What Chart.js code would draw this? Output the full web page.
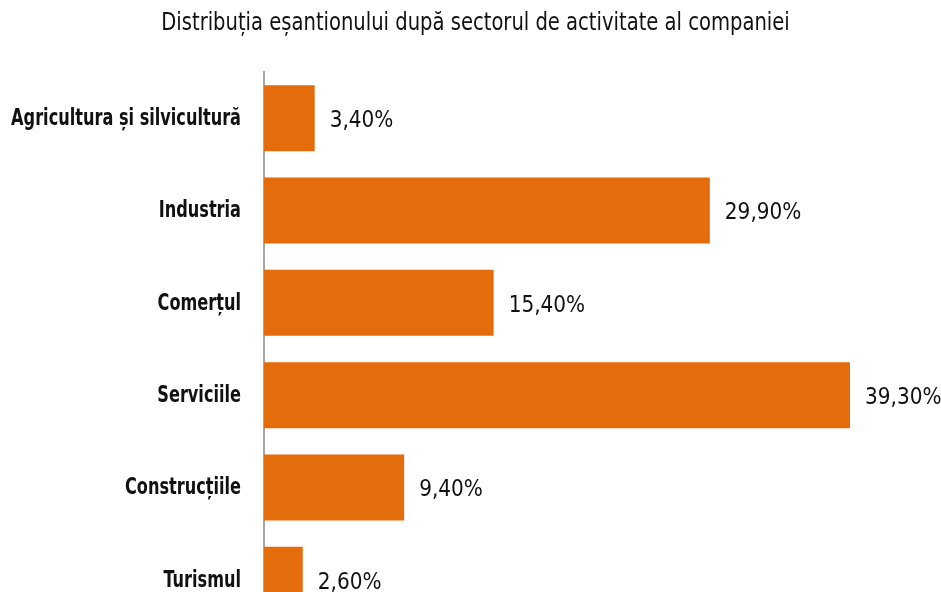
<!DOCTYPE html>
<html>
<head>
<meta charset="utf-8">
<script src="https://cdn.jsdelivr.net/npm/chart.js@4.4.1/dist/chart.umd.min.js"></script>
<style>
  html, body { margin: 0; padding: 0; background: #fff; overflow: hidden; }
  canvas { display: block; }
</style>
</head>
<body>
<canvas id="bars" width="941" height="626"></canvas>
<script>
// --- data ---
const chartTitle = "Distribuția eșantionului după sectorul de activitate al companiei";
const sectors = ["Agricultura și silvicultură", "Industria", "Comerțul", "Serviciile", "Construcțiile", "Turismul"];
const shares = [3.4, 29.9, 15.4, 39.3, 9.4, 2.6];

const FONT = "'DejaVu Sans Condensed', 'Liberation Sans Narrow', sans-serif";
const BAR_COLOR = "#E46C0A";
const TEXT_COLOR = "#111";

// draws text squeezed horizontally (narrow look)
function narrowText(ctx, txt, x, y, sx, align) {
  ctx.save();
  ctx.translate(x, y);
  ctx.scale(sx, 1);
  ctx.textAlign = align;
  ctx.fillText(txt, 0, 0);
  ctx.restore();
}

// title, category names and "29,90%" labels
const textLayer = {
  id: "textLayer",
  afterDatasetsDraw(chart) {
    const ctx = chart.ctx;
    const yScale = chart.scales.y;
    const meta = chart.getDatasetMeta(0);
    ctx.save();
    ctx.fillStyle = TEXT_COLOR;
    ctx.textBaseline = "middle";

    ctx.font = "25px " + FONT;
    narrowText(ctx, chartTitle, chart.width / 2 + 5, 23, 0.87, "center");

    ctx.font = "bold 23px " + FONT;
    sectors.forEach((name, i) => {
      narrowText(ctx, name, yScale.right - 23, yScale.getPixelForTick(i) + 1, 0.78, "right");
    });

    ctx.font = "23px " + FONT;
    meta.data.forEach((bar, i) => {
      const txt = shares[i].toFixed(2).replace(".", ",") + "%";
      narrowText(ctx, txt, bar.x + 15, bar.y + 3, 0.97, "left");
    });
    ctx.restore();
  }
};

const canvas = document.getElementById("bars");
new Chart(canvas, {
  type: "bar",
  data: {
    labels: sectors,
    datasets: [{
      data: shares,
      backgroundColor: BAR_COLOR,
      borderWidth: 0,
      categoryPercentage: 1,
      barPercentage: 0.715
    }]
  },
  options: {
    indexAxis: "y",
    responsive: false,
    animation: false,
    layout: { padding: { left: 0, right: 6, top: 72, bottom: 0 } },
    plugins: {
      legend: { display: false },
      tooltip: { enabled: false },
      title: { display: false }
    },
    scales: {
      x: {
        display: false,
        min: 0,
        max: 45
      },
      y: {
        afterFit(scale) { scale.width = 264; },
        grid: { display: false, drawTicks: false },
        border: { display: true, color: "#a6a6a6", width: 2 },
        ticks: { display: false }
      }
    }
  },
  plugins: [textLayer]
});
</script>
</body>
</html>
